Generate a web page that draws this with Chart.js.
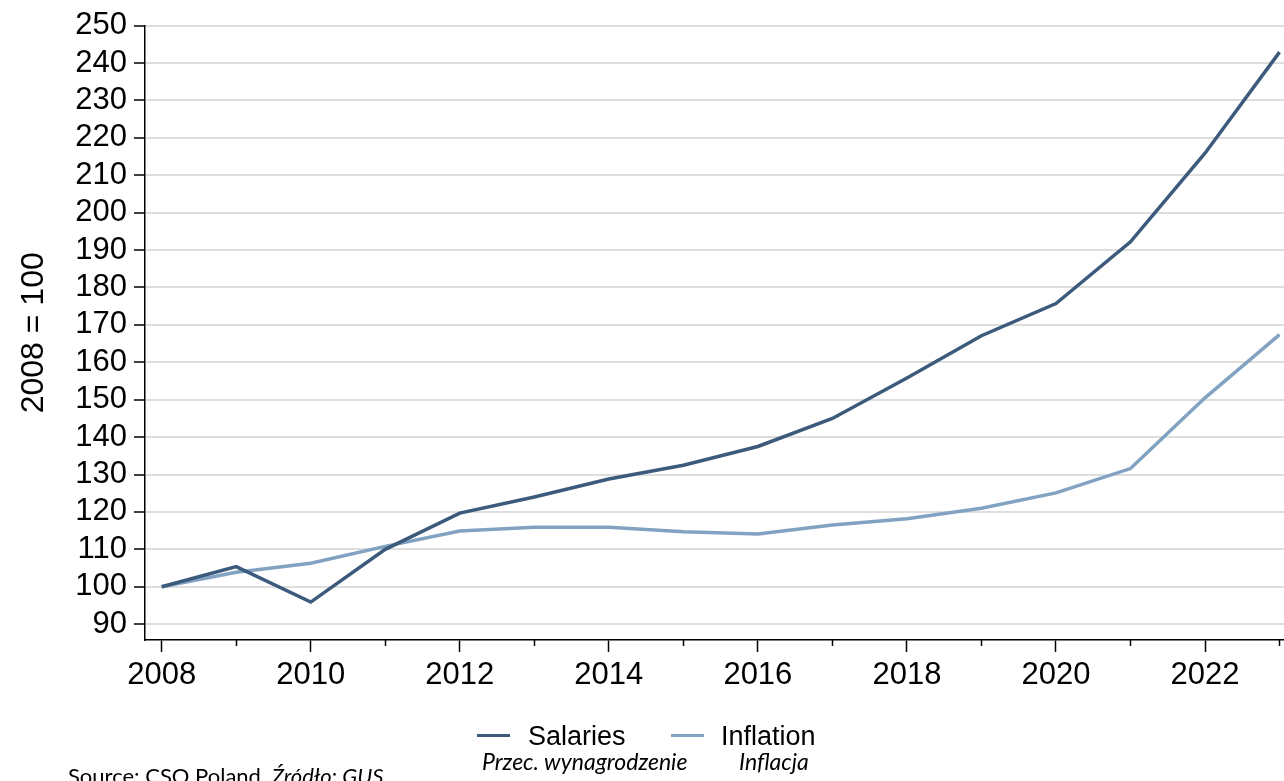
<!DOCTYPE html>
<html>
<head>
<meta charset="utf-8">
<script src="https://cdn.jsdelivr.net/npm/chart.js@4.4.0/dist/chart.umd.min.js"></script>
<style>
  html, body { margin: 0; padding: 0; background: #fff; overflow: hidden; }
  #wrap { position: relative; width: 1284px; height: 781px; }
  #c { position: absolute; left: 0; top: 0; }
  .t { position: absolute; white-space: nowrap; line-height: 1; color: #000; }
  .leg { font-family: "Liberation Sans", Arial, sans-serif; font-size: 27px; top: 723px; }
  .sw { position: absolute; height: 3px; width: 33px; top: 734px; }
  .sub { font-family: Lato, "Open Sans", sans-serif; font-style: italic; font-size: 23px; top: 750px; }
  .src { font-family: Lato, "Open Sans", sans-serif; font-size: 22px; top: 765px; left: 68px; }
</style>
</head>
<body>
<div id="wrap">
  <canvas id="c" width="1284" height="781"></canvas>
  <div class="sw" style="left:477px;background:#3c5b7c"></div>
  <div class="t leg" style="left:528px">Salaries</div>
  <div class="sw" style="left:671px;background:#82a2c1"></div>
  <div class="t leg" style="left:721px">Inflation</div>
  <div class="t sub" style="left:482px">Przec. wynagrodzenie</div>
  <div class="t sub" style="left:739px">Inflacja</div>
  <div class="t src">Source: CSO Poland. <i>Źródło: GUS</i></div>
</div>
<script>
const years = [2008, 2009, 2010, 2011, 2012, 2013, 2014, 2015, 2016, 2017, 2018, 2019, 2020, 2021, 2022, 2023];
const salaries = [100, 105.4, 95.9, 110, 119.7, 124.0, 128.8, 132.5, 137.5, 145.0, 155.8, 167.1, 175.7, 192.2, 215.9, 242.9];
const inflation = [100, 103.9, 106.3, 110.8, 114.9, 115.9, 115.9, 114.7, 114.1, 116.5, 118.2, 121.0, 125.1, 131.6, 150.5, 167.4];
const majorYears = [2008, 2010, 2012, 2014, 2016, 2018, 2020, 2022];
const minorYears = [2009, 2011, 2013, 2015, 2017, 2019, 2021, 2023];
const yTicks = [90, 100, 110, 120, 130, 140, 150, 160, 170, 180, 190, 200, 210, 220, 230, 240, 250];

const tickFont = { family: "'Liberation Sans', Arial, sans-serif", size: 31 };

new Chart(document.getElementById('c'), {
  type: 'line',
  data: {
    datasets: [
      { label: 'Salaries', data: years.map((y, i) => ({ x: y, y: salaries[i] })),
        borderColor: '#3c5b7c', borderWidth: 3.5, pointRadius: 0, tension: 0, xAxisID: 'x', yAxisID: 'y' },
      { label: 'Inflation', data: years.map((y, i) => ({ x: y, y: inflation[i] })),
        borderColor: '#82a2c1', borderWidth: 3.5, pointRadius: 0, tension: 0, xAxisID: 'x', yAxisID: 'y' }
    ]
  },
  options: {
    responsive: false,
    animation: false,
    devicePixelRatio: 1,
    layout: { padding: 0 },
    plugins: { legend: { display: false }, tooltip: { enabled: false } },
    scales: {
      x: {
        type: 'linear', position: 'bottom', weight: 1,
        min: 2007.776, max: 2023.06,
        afterBuildTicks: s => { s.ticks = majorYears.map(v => ({ value: v })); },
        afterFit: s => { s.height = 141; },
        grid: { drawOnChartArea: false, tickLength: 12, tickColor: '#000', tickWidth: 1.5 },
        border: { display: true, color: '#000', width: 1.5 },
        ticks: { font: tickFont, color: '#000', padding: 5, maxRotation: 0, autoSkip: false,
                 callback: v => String(v) }
      },
      x2: {
        type: 'linear', position: 'bottom', weight: 0,
        min: 2007.776, max: 2023.06,
        afterBuildTicks: s => { s.ticks = minorYears.map(v => ({ value: v })); },
        afterFit: s => { s.height = 0; },
        grid: { drawOnChartArea: false, tickLength: 6, tickColor: '#000', tickWidth: 1.5 },
        border: { display: false },
        ticks: { display: false }
      },
      y: {
        type: 'linear', position: 'left',
        min: 85.77, max: 250,
        afterBuildTicks: s => { s.ticks = yTicks.map(v => ({ value: v })); },
        afterFit: s => { s.width = 145; },
        grid: { color: '#dedede', lineWidth: 2, tickColor: '#000', tickLength: 11, tickWidth: 1.5 },
        border: { display: true, color: '#000', width: 1.5 },
        ticks: { font: tickFont, color: '#000', padding: 7, autoSkip: false, callback: v => String(v) },
        title: { display: true, text: '2008 = 100', font: { family: "'Liberation Sans', Arial, sans-serif", size: 32 },
                 color: '#000', padding: { top: 15, bottom: 0 } }
      }
    }
  }
});
</script>
</body>
</html>
